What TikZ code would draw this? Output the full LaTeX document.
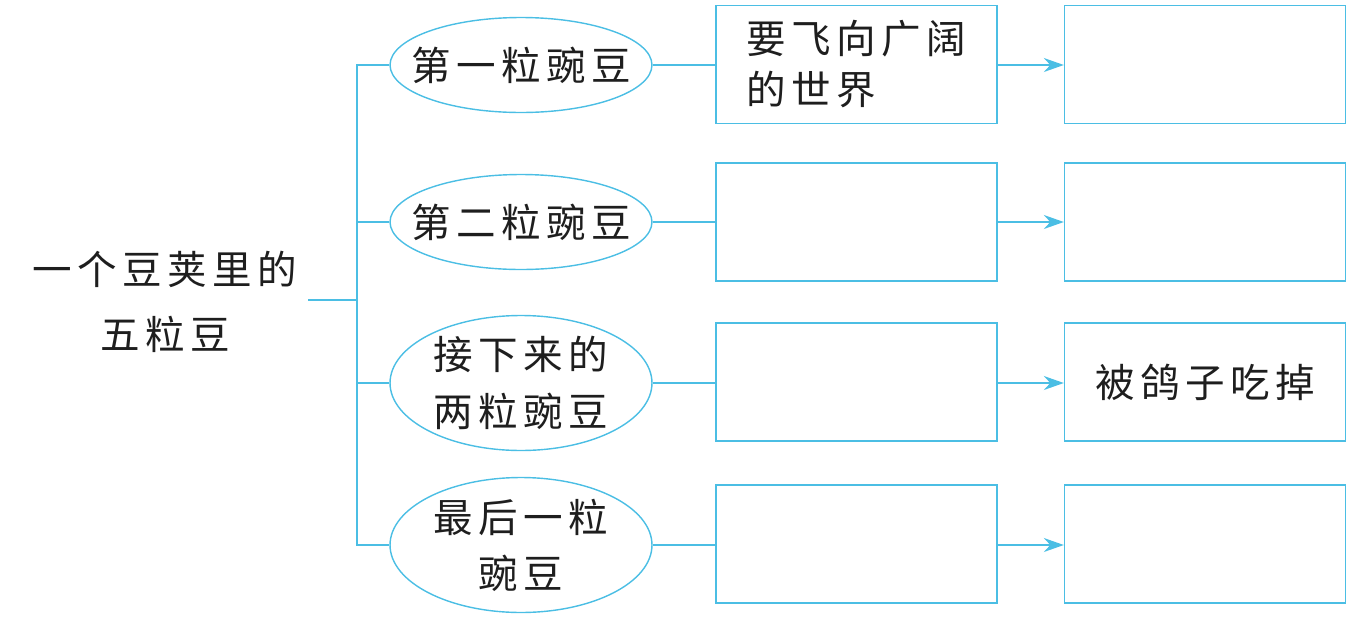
\documentclass[tikz,border=0pt]{standalone}
\usepackage{fontspec}
\newfontfamily\cjk[LetterSpace=14]{Noto Sans CJK SC}
\usetikzlibrary{arrows.meta,shapes.geometric}
\definecolor{lineblue}{RGB}{75,190,228}
\definecolor{ink}{RGB}{30,30,30}

\begin{document}
\begin{tikzpicture}[x=0.02cm,y=-0.02cm,
  txt/.style={font=\cjk\fontsize{22.5}{32}\selectfont,text=ink,align=center,inner sep=0pt},
  pea/.style={ellipse,draw=lineblue,line width=0.8pt,minimum width=5.24cm,minimum height=1.9cm,inner sep=0pt},
  tall/.style={minimum height=2.7cm},
  box/.style={rectangle,draw=lineblue,line width=0.8pt,minimum width=5.62cm,minimum height=2.36cm,txt,align=left},
  link/.style={draw=lineblue,line width=0.8pt},
  arr/.style={link,-{Stealth[length=4mm,width=2.8mm]}}]
  \useasboundingbox (0,0) rectangle (1363,623);

  % title and trunk
  \node[txt,font=\cjk\fontsize{22.5}{37}\selectfont,inner xsep=6pt] (title) at (165,302) {一个豆荚里的\\五粒豆};
  \coordinate (j) at (357,300);

  % the four peas
  \node[pea,label={[txt]center:第一粒豌豆}] (p1) at (521,65) {};
  \node[pea,label={[txt]center:第二粒豌豆}] (p2) at (521,222) {};
  \node[pea,tall,label={[txt]center:接下来的\\两粒豌豆}] (p3) at (521,383) {};
  \node[pea,tall,label={[txt]center:最后一粒\\豌豆}] (p4) at (521,545) {};

  % answer boxes
  \node[box,font=\cjk\fontsize{22.5}{29}\selectfont] (a1) at (856.5,64.5) {要飞向广阔\\的世界};
  \node[box] (a2) at (856.5,222) {};
  \node[box] (a3) at (856.5,382) {};
  \node[box] (a4) at (856.5,544) {};
  \node[box] (b1) at (1205,64.5) {};
  \node[box] (b2) at (1205,222) {};
  \node[box] (b3) at (1205,382) {被鸽子吃掉};
  \node[box] (b4) at (1205,544) {};

  \draw[link] (title.east |- j) -- (j);
  \draw[link] (p1.west) -| (j) |- (p4.west);
  \draw[link] (p2.west) -- (j |- p2.west);
  \draw[link] (p3.west) -- (j |- p3.west);
  \foreach \i in {1,...,4}{
    \draw[link] (p\i.east) -- (a\i.west |- p\i.east);
    \draw[arr] (a\i.east |- p\i.east) -- (b\i.west |- p\i.east);
  }
\end{tikzpicture}
\end{document}
